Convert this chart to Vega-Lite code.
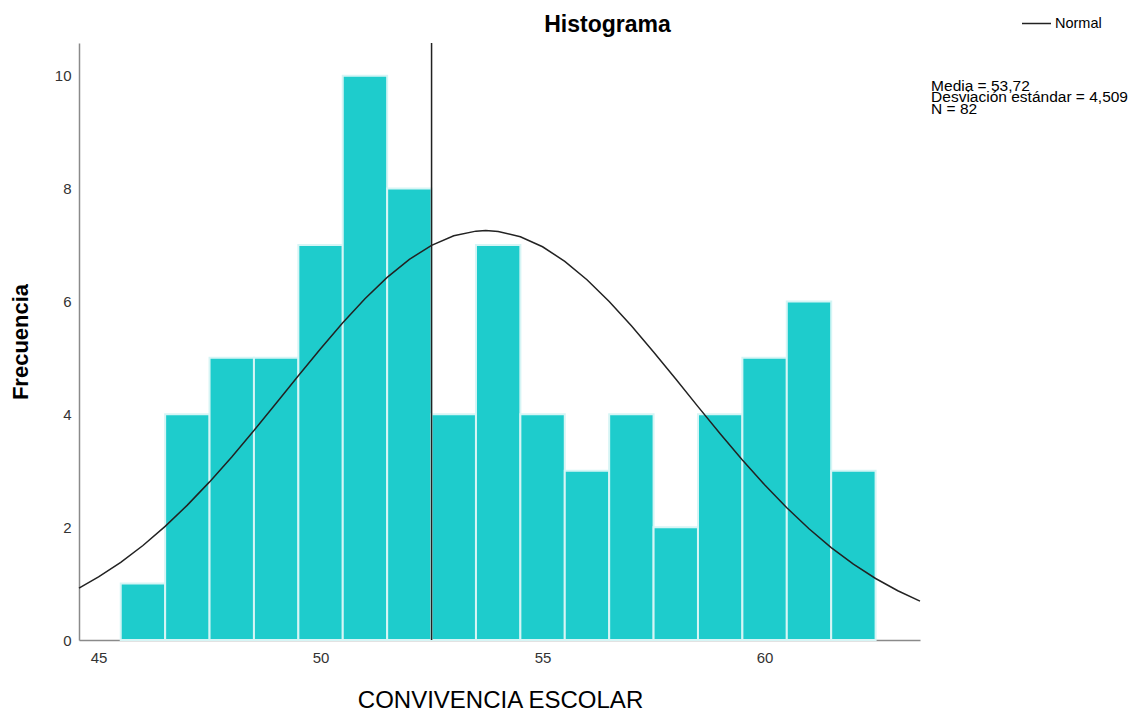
{
  "$schema": "https://vega.github.io/schema/vega-lite/v6.json",
  "width": 841,
  "height": 597,
  "autosize": {"type": "none"},
  "padding": {"left": 79, "top": 43, "right": 214, "bottom": 71},
  "background": "white",
  "config": {"view": {"stroke": null}, "font": "Liberation Sans"},
  "title": {"text": "Histograma", "font": "Liberation Sans", "fontSize": 23, "fontWeight": "bold", "color": "#000000", "anchor": "middle", "frame": "group", "dx": 108, "offset": 10, "baseline": "alphabetic", "dy": 57},
  "datasets": {
    "bins": [
      {"lo": 45.5, "hi": 46.5, "count": 1},
      {"lo": 46.5, "hi": 47.5, "count": 4},
      {"lo": 47.5, "hi": 48.5, "count": 5},
      {"lo": 48.5, "hi": 49.5, "count": 5},
      {"lo": 49.5, "hi": 50.5, "count": 7},
      {"lo": 50.5, "hi": 51.5, "count": 10},
      {"lo": 51.5, "hi": 52.5, "count": 8},
      {"lo": 52.5, "hi": 53.5, "count": 4},
      {"lo": 53.5, "hi": 54.5, "count": 7},
      {"lo": 54.5, "hi": 55.5, "count": 4},
      {"lo": 55.5, "hi": 56.5, "count": 3},
      {"lo": 56.5, "hi": 57.5, "count": 4},
      {"lo": 57.5, "hi": 58.5, "count": 2},
      {"lo": 58.5, "hi": 59.5, "count": 4},
      {"lo": 59.5, "hi": 60.5, "count": 5},
      {"lo": 60.5, "hi": 61.5, "count": 6},
      {"lo": 61.5, "hi": 62.5, "count": 3}
    ],
    "curve": [
      {"x": 44.56, "y": 0.921, "series": "Normal"},
      {"x": 45.0, "y": 1.118, "series": "Normal"},
      {"x": 45.5, "y": 1.377, "series": "Normal"},
      {"x": 46.0, "y": 1.675, "series": "Normal"},
      {"x": 46.5, "y": 2.013, "series": "Normal"},
      {"x": 47.0, "y": 2.390, "series": "Normal"},
      {"x": 47.5, "y": 2.802, "series": "Normal"},
      {"x": 48.0, "y": 3.245, "series": "Normal"},
      {"x": 48.5, "y": 3.712, "series": "Normal"},
      {"x": 49.0, "y": 4.195, "series": "Normal"},
      {"x": 49.5, "y": 4.682, "series": "Normal"},
      {"x": 50.0, "y": 5.162, "series": "Normal"},
      {"x": 50.5, "y": 5.622, "series": "Normal"},
      {"x": 51.0, "y": 6.048, "series": "Normal"},
      {"x": 51.5, "y": 6.427, "series": "Normal"},
      {"x": 52.0, "y": 6.746, "series": "Normal"},
      {"x": 52.5, "y": 6.994, "series": "Normal"},
      {"x": 53.0, "y": 7.163, "series": "Normal"},
      {"x": 53.5, "y": 7.246, "series": "Normal"},
      {"x": 53.72, "y": 7.255, "series": "Normal"},
      {"x": 54.0, "y": 7.241, "series": "Normal"},
      {"x": 54.5, "y": 7.147, "series": "Normal"},
      {"x": 55.0, "y": 6.969, "series": "Normal"},
      {"x": 55.5, "y": 6.711, "series": "Normal"},
      {"x": 56.0, "y": 6.384, "series": "Normal"},
      {"x": 56.5, "y": 5.999, "series": "Normal"},
      {"x": 57.0, "y": 5.568, "series": "Normal"},
      {"x": 57.5, "y": 5.105, "series": "Normal"},
      {"x": 58.0, "y": 4.624, "series": "Normal"},
      {"x": 58.5, "y": 4.136, "series": "Normal"},
      {"x": 59.0, "y": 3.655, "series": "Normal"},
      {"x": 59.5, "y": 3.190, "series": "Normal"},
      {"x": 60.0, "y": 2.750, "series": "Normal"},
      {"x": 60.5, "y": 2.343, "series": "Normal"},
      {"x": 61.0, "y": 1.971, "series": "Normal"},
      {"x": 61.5, "y": 1.638, "series": "Normal"},
      {"x": 62.0, "y": 1.344, "series": "Normal"},
      {"x": 62.5, "y": 1.090, "series": "Normal"},
      {"x": 63.0, "y": 0.873, "series": "Normal"},
      {"x": 63.5, "y": 0.690, "series": "Normal"}
    ],
    "refline": [{"x": 52.5}],
    "stats": [{"x": 63.75, "y": 9.73, "t": "Media = 53,72\nDesviación estándar = 4,509\nN = 82"}]
  },
  "layer": [
    {
      "data": {"name": "bins"},
      "mark": {"type": "bar", "color": "#1ecccc", "stroke": "#d6f5f5", "strokeWidth": 2},
      "encoding": {
        "x": {"field": "lo", "type": "quantitative",
          "scale": {"domain": [44.56, 63.5], "nice": false, "zero": false},
          "axis": {"values": [45, 50, 55, 60], "format": "d", "ticks": false, "grid": false, "domainColor": "#8a8a8a", "domainWidth": 1.5,
            "labelFontSize": 15, "labelColor": "#333333", "labelPadding": 10,
            "title": "CONVIVENCIA ESCOLAR", "titleFontSize": 24, "titleFontWeight": "normal", "titleColor": "#000000",
            "titleX": 421, "titleY": 67, "titleBaseline": "alphabetic", "titleAlign": "center"}},
        "x2": {"field": "hi"},
        "y": {"field": "count", "type": "quantitative",
          "scale": {"domain": [0, 10.58], "nice": false},
          "axis": {"values": [0, 2, 4, 6, 8, 10], "format": "d", "ticks": false, "grid": false, "domainColor": "#8a8a8a", "domainWidth": 1.5,
            "labelFontSize": 15, "labelColor": "#333333", "labelPadding": 8,
            "title": "Frecuencia", "titleFontSize": 22, "titleFontWeight": "bold", "titleColor": "#000000",
            "titleX": -52, "titleY": 298.5, "titleBaseline": "alphabetic", "titleAlign": "center", "titleAngle": -90}},
        "y2": {"datum": 0}
      }
    },
    {
      "data": {"name": "refline"},
      "mark": {"type": "rule", "color": "#222222", "strokeWidth": 1.5},
      "encoding": {"x": {"field": "x", "type": "quantitative"}}
    },
    {
      "data": {"name": "curve"},
      "mark": {"type": "line", "strokeWidth": 1.5},
      "encoding": {
        "x": {"field": "x", "type": "quantitative"},
        "y": {"field": "y", "type": "quantitative"},
        "color": {"field": "series", "type": "nominal",
          "scale": {"domain": ["Normal"], "range": ["#222222"]},
          "legend": {"orient": "none", "legendX": 942, "legendY": -35, "title": null, "symbolType": "stroke", "symbolSize": 841, "symbolStrokeWidth": 1.5, "labelFontSize": 14.5, "labelColor": "#000000", "labelOffset": 3, "padding": 0}}
      }
    },
    {
      "data": {"name": "stats"},
      "mark": {"type": "text", "align": "left", "baseline": "alphabetic", "fontSize": 15.5, "lineHeight": 11.5, "lineBreak": "\n", "color": "#000000"},
      "encoding": {
        "x": {"field": "x", "type": "quantitative"},
        "y": {"field": "y", "type": "quantitative"},
        "text": {"field": "t"}
      }
    }
  ]
}
